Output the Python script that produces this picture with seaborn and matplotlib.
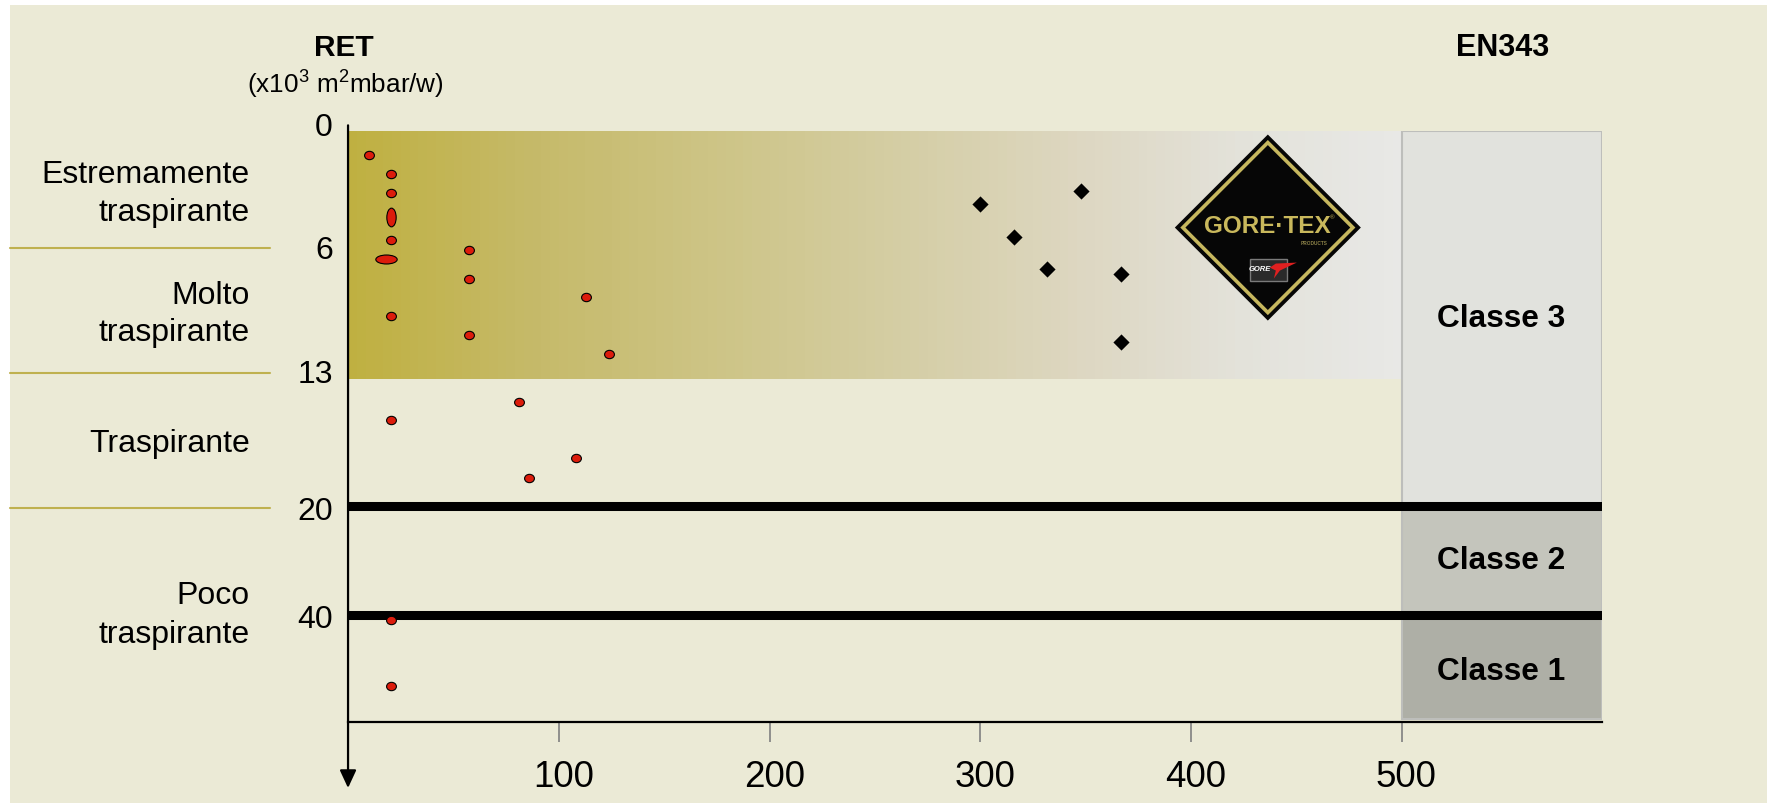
import matplotlib
matplotlib.use("Agg")
import matplotlib.pyplot as plt
import numpy as np
import pandas as pd
import seaborn as sns
from matplotlib.colors import LinearSegmentedColormap
from matplotlib.patches import Polygon, Rectangle
from matplotlib.path import Path
from matplotlib.transforms import Affine2D, ScaledTranslation

W, H = 1767, 803

x_ticks = [100, 200, 300, 400, 500]
y_ticks = [0, 6, 13, 20, 40]
y_tick_shift = [7, 0, 8, -3, -2]  # labels sit a little off their ticks

# the RET axis is not linear, each segment has its own length
ret_breaks = [0, 6, 13, 20, 40, 60]
ret_pixels = [0, 116, 248, 374.6, 483.6, 591]

red_x = [10, 20.5, 20.5, 20.5, 57.5, 57.5, 113, 20.5, 57.5, 123.5, 81, 20.5, 108, 86, 20.5, 20.5]
red_y = [1.25, 2.24, 3.2, 5.67, 6.16, 7.68, 8.65, 9.67, 10.66, 11.67, 14.29, 15.29, 17.39, 18.47, 41, 53.26]
tall_x = [20.5]
tall_y = [4.46]
wide_x = [18]
wide_y = [6.65]
gore_x = [300, 347.6, 316, 331.6, 366.8, 366.8]
gore_y = [3.78, 3.13, 5.47, 7.18, 7.45, 11.05]

class_names = ["Classe 3", "Classe 2", "Classe 1"]
class_top = [0, 20, 40]
class_bottom = [20, 40, 59.4]
class_colors = ["#E1E2DD", "#C4C5BC", "#AEAFA6"]
limit_lines = [20, 40]

side_labels = ["Estremamente", "traspirante", "Molto", "traspirante", "Traspirante", "Poco", "traspirante"]
side_label_y = [171.5, 210, 292.5, 330, 441, 593, 631.5]
side_lines_y = [247, 371.7, 507.3]

BG = "#EBEAD6"
GOLD = "#BFB14F"


def fx(x):
    return x / W


def fy(y):
    return 1 - y / H


def to_screen(v):
    return np.interp(v, ret_breaks, ret_pixels)


def from_screen(v):
    return np.interp(v, ret_pixels, ret_breaks)


sns.set_style("white")
plt.rcParams["font.family"] = ["Liberation Sans", "DejaVu Sans"]
plt.rcParams["mathtext.fontset"] = "custom"
plt.rcParams["mathtext.rm"] = "Liberation Sans"
plt.rcParams["text.color"] = "black"

fig = plt.figure(figsize=((W + 0.2) / 100, (H + 0.2) / 100), dpi=100, facecolor="white")
fig.patches.append(Rectangle((fx(10), 0), 1 - fx(10), fy(5), transform=fig.transFigure, color=BG, lw=0, zorder=-5))

ax = fig.add_axes([fx(348.2), fy(722), fx(1602 - 348.2), (722 - 131) / H])
ax.patch.set_alpha(0)
ax.set_xlim(0, 595)
ax.set_yscale("function", functions=(to_screen, from_screen))
ax.set_ylim(ret_breaks[-1], 0)

# gradient band
cmap = LinearSegmentedColormap.from_list(
    "band",
    [(0, "#BFB040"), (0.17, "#C5B968"), (0.35, "#CDC486"), (0.5, "#D3CCA0"), (0.7, "#DDD7C2"), (0.85, "#E3E2DA"), (1, "#E8E8E6")],
)
edges = np.linspace(0, 500, 121)
ax.pcolormesh(edges, [0, 13], ((edges[:-1] + edges[1:]) / 2 / 500)[None, :], cmap=cmap,
              vmin=0, vmax=1, antialiased=False, linewidth=0, zorder=1)

# EN343 classes
ax.bar(
    [500] * 3,
    np.array(class_bottom) - np.array(class_top),
    bottom=class_top,
    width=95,
    align="edge",
    color=class_colors,
    edgecolor="#BDBEBB",
    linewidth=1.5,
    zorder=2,
)
ax.hlines(limit_lines, 0, 595, color="black", linewidth=6.5, zorder=3)

# markers are a bit wider than tall, two of them are stretched by a lot
dot = Path.unit_circle().transformed(Affine2D().scale(1, 0.85))
tall = Path.unit_circle().transformed(Affine2D().scale(0.5, 1))
wide = Path.unit_circle().transformed(Affine2D().scale(1, 0.42))
for xs, ys, marker, size in [(red_x, red_y, dot, 50), (tall_x, tall_y, tall, 181), (wide_x, wide_y, wide, 237)]:
    sns.scatterplot(
        data=pd.DataFrame({"x": xs, "y": ys}), x="x", y="y", ax=ax, marker=marker, s=size,
        color="#DC1C0C", edgecolor="black", linewidth=0.8, zorder=5, clip_on=False, legend=False,
    )
sns.scatterplot(
    data=pd.DataFrame({"x": gore_x, "y": gore_y}), x="x", y="y", ax=ax, marker="D", s=68,
    color="black", edgecolor="black", linewidth=0, zorder=5, legend=False,
)
ax.set_xlabel("")
ax.set_ylabel("")

# axes
sns.despine(ax=ax, top=True, right=True, left=True, bottom=False)
ax.spines["bottom"].set_color("black")
ax.spines["bottom"].set_linewidth(1.6)
ax.set_xticks(x_ticks)
ax.set_yticks(y_ticks)
ax.set_yticklabels([str(v) for v in y_ticks])
ax.tick_params(axis="x", bottom=True, length=14.5, width=1.2, color="#808080", labelsize=26.5, labelcolor="black", pad=12.5)
ax.tick_params(axis="y", left=False, length=0, labelsize=23, labelcolor="black", pad=11)
for lab in ax.get_xticklabels():
    lab.set_transform(lab.get_transform() + ScaledTranslation(3.2 / 72, 0, fig.dpi_scale_trans))
for lab, dy in zip(ax.get_yticklabels(), y_tick_shift):
    lab.set_transform(lab.get_transform() + ScaledTranslation(0, dy * 0.72 / 72, fig.dpi_scale_trans))
ax.annotate(
    "", xy=(fx(348), fy(788)), xytext=(fx(348), fy(125.5)), xycoords="figure fraction", textcoords="figure fraction",
    arrowprops=dict(arrowstyle="-|>,head_length=10.8,head_width=5", mutation_scale=1, color="black", lw=1.6,
                    shrinkA=0, shrinkB=0),
    zorder=6, annotation_clip=False,
)

# text round the plot
fig.text(fx(344), fy(48), "RET", fontsize=21.5, fontweight="bold", ha="center", va="center")
fig.text(fx(345), fy(84), "(x10$^{3}$ m$^{2}$mbar/w)", fontsize=18.8, ha="center", va="center")
fig.text(fx(1502), fy(48), "EN343", fontsize=22, fontweight="bold", ha="center", va="center")
for name, y in zip(class_names, [319, 561, 672]):
    fig.text(fx(1501), fy(y), name, fontsize=22.8, fontweight="bold", ha="center", va="center", zorder=8)
for label, y in zip(side_labels, side_label_y):
    fig.text(fx(249.5), fy(y + 3), label, fontsize=23, ha="right", va="center")
for y in side_lines_y:
    fig.add_artist(plt.Line2D([fx(10), fx(270)], [fy(y + 1), fy(y + 1)], color=GOLD, lw=1.5))

# GORE-TEX badge, in pixels round its centre
logo = fig.add_axes([fx(1267.7 - 95), fy(227.7 + 95), fx(190), 190 / H], zorder=7)
logo.set_xlim(-95, 95)
logo.set_ylim(-95, 95)
logo.axis("off")
logo.add_patch(Polygon([(-93, 0), (0, 93), (93, 0), (0, -93)], closed=True, color="#060606", lw=0))
logo.add_patch(Polygon([(-85, 0), (0, 85), (85, 0), (0, -85)], closed=True, fill=False, edgecolor="#C6B75E",
                       lw=2.6, joinstyle="miter"))
logo.text(-0.5, 1, "GORE·TEX", color="#C9B85C", fontsize=17.5, fontweight="bold", ha="center", va="center")
logo.text(46, -15.5, "PRODUCTS", color="#8C8248", fontsize=3.4, fontweight="bold", ha="center", va="center")
logo.text(64, 10, "®", color="#C9B85C", fontsize=4.5, ha="center", va="center")
logo.add_patch(Rectangle((-18, -53), 37, 22, facecolor="#2A2A2A", edgecolor="#7A7A7A", lw=1))
logo.text(-8, -42, "GORE", color="white", fontsize=5.5, fontweight="bold", style="italic", ha="center", va="center")
logo.add_patch(Polygon([(8, -36), (29, -35), (12, -43), (6, -51), (8, -43), (2, -40)], closed=True, color="#E02020", lw=0))

fig.savefig("out.png", dpi=100, facecolor="white")
